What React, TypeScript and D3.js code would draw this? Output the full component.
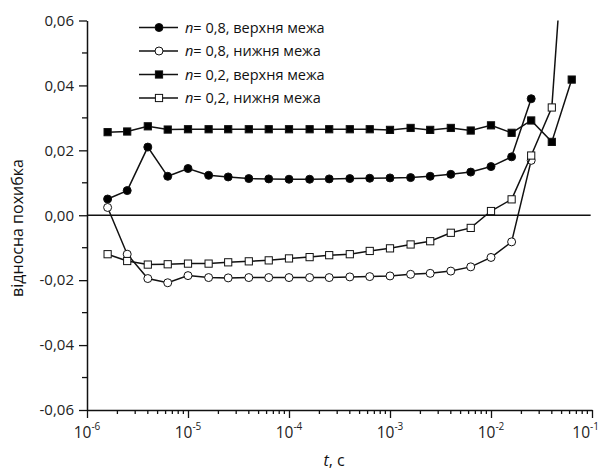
import React, { useEffect, useRef } from 'react';
import * as d3 from 'd3';

// time points, s
const times = [1.6e-6, 2.5e-6, 4e-6, 6.3e-6, 1e-5, 1.6e-5, 2.5e-5, 4e-5, 6.3e-5, 1e-4, 1.6e-4, 2.5e-4,
  4e-4, 6.3e-4, 1e-3, 1.6e-3, 2.5e-3, 4e-3, 6.3e-3, 1e-2, 1.6e-2, 2.5e-2, 4e-2, 6.3e-2];

// n = 0.8, upper / lower bound
const n08Upper = [0.0050, 0.0076, 0.0210, 0.0120, 0.0144, 0.0123, 0.0118, 0.0113, 0.0112, 0.0111, 0.0111, 0.0112,
  0.0113, 0.0114, 0.0115, 0.0116, 0.0120, 0.0126, 0.0133, 0.0150, 0.0180, 0.0359];
const n08Lower = [0.0024, -0.0120, -0.0195, -0.0208, -0.0186, -0.0192, -0.0193, -0.0192, -0.0192, -0.0192, -0.0192, -0.0192,
  -0.0190, -0.0189, -0.0187, -0.0182, -0.0179, -0.0172, -0.0159, -0.0130, -0.0082, 0.0169];
// n = 0.2, upper / lower bound
const n02Upper = [0.0256, 0.0258, 0.0274, 0.0264, 0.0265, 0.0265, 0.0265, 0.0265, 0.0265, 0.0265, 0.0265, 0.0265,
  0.0265, 0.0265, 0.0263, 0.0269, 0.0263, 0.0269, 0.0261, 0.0277, 0.0254, 0.0292, 0.0226, 0.0418];
const n02Lower = [-0.0120, -0.0141, -0.0152, -0.0151, -0.0149, -0.0149, -0.0145, -0.0142, -0.0139, -0.0133, -0.0129, -0.0123,
  -0.0120, -0.0110, -0.0102, -0.0090, -0.0080, -0.0054, -0.0039, 0.0013, 0.0049, 0.0184, 0.0332, 0.1200];

const seriesNames = ['= 0,8, верхня межа', '= 0,8, нижня межа', '= 0,2, верхня межа', '= 0,2, нижня межа'];
const xExponents = [-6, -5, -4, -3, -2, -1];
const yTicks = [-0.06, -0.04, -0.02, 0, 0.02, 0.04, 0.06];
const yMinorTicks = [-0.05, -0.03, -0.01, 0.01, 0.03, 0.05];

const FONT = '"Open Sans", "DejaVu Sans", sans-serif';

export default function App() {
  const ref = useRef<SVGSVGElement>(null);

  useEffect(() => {
    const svg = d3.select(ref.current);
    svg.selectAll('*').remove();

    const x = d3.scaleLog().domain([1e-6, 1e-1]).range([87, 592]);
    const y = d3.scaleLinear().domain([-0.06, 0.06]).range([410, 20.5]);

    const series = [
      { vals: n08Upper, shape: 'circle', fill: '#000' },
      { vals: n08Lower, shape: 'circle', fill: '#fff' },
      { vals: n02Upper, shape: 'square', fill: '#000' },
      { vals: n02Lower, shape: 'square', fill: '#fff' },
    ];

    svg.append('defs').append('clipPath').attr('id', 'plotclip')
      .append('rect')
      .attr('x', x(1e-6)).attr('y', y(0.06))
      .attr('width', x(1e-1) - x(1e-6)).attr('height', y(-0.06) - y(0.06));

    // zero line
    svg.append('line')
      .attr('x1', x(1e-6)).attr('x2', x(0.097))
      .attr('y1', y(0)).attr('y2', y(0))
      .attr('stroke', '#111').attr('stroke-width', 1.5);

    // Y axis
    const yAxis = svg.append('g').attr('transform', `translate(${x(1e-6)},0)`);
    yAxis.call(d3.axisLeft(y).tickValues(yTicks).tickSize(8).tickSizeOuter(0)
      .tickFormat(d => d3.format('.2f')(+d).replace('.', ',').replace('−', '-')));
    yAxis.selectAll('.minor').data(yMinorTicks).join('line').attr('class', 'minor')
      .attr('x1', -5).attr('x2', 0).attr('y1', d => y(d)).attr('y2', d => y(d))
      .attr('stroke', '#111').attr('stroke-width', 1.3);
    yAxis.select('.domain').attr('stroke', '#111').attr('stroke-width', 1.5);
    yAxis.selectAll('.tick line').attr('stroke', '#111').attr('stroke-width', 1.3);
    yAxis.selectAll('.tick text').attr('font-family', FONT).attr('font-size', 15).attr('fill', '#222').attr('x', -13);

    // X axis
    const xAxis = svg.append('g').attr('transform', `translate(0,${y(-0.06)})`);
    const majors = xExponents.map(e => Math.pow(10, e));
    xAxis.call(d3.axisBottom(x).tickValues(majors).tickSize(8).tickSizeOuter(0).tickFormat(() => ''));
    const minors: number[] = [];
    majors.slice(0, -1).forEach(m => { for (let k = 2; k <= 9; k++) minors.push(m * k); });
    xAxis.selectAll('.minor').data(minors).join('line').attr('class', 'minor')
      .attr('x1', d => x(d)).attr('x2', d => x(d)).attr('y1', 0).attr('y2', 4)
      .attr('stroke', '#111').attr('stroke-width', 1.3);
    xAxis.select('.domain').attr('stroke', '#111').attr('stroke-width', 1.5);
    xAxis.selectAll('.tick line').attr('stroke', '#111').attr('stroke-width', 1.3);
    // last label would run off the right edge, so anchor it at its end
    const last = xExponents[xExponents.length - 1];
    const xl = xAxis.selectAll('.xlab').data(xExponents).join('text').attr('class', 'xlab')
      .attr('x', e => (e === last ? 599 : x(Math.pow(10, e))))
      .attr('y', 28)
      .attr('text-anchor', e => (e === last ? 'end' : 'middle'))
      .attr('font-family', FONT).attr('font-size', 15.5).attr('fill', '#222');
    xl.append('tspan').text('10');
    xl.append('tspan').attr('dy', -8).attr('font-size', 10).text(e => `${e}`);

    // axis titles
    svg.append('text')
      .attr('transform', `translate(23,${228}) rotate(-90)`)
      .attr('text-anchor', 'middle').attr('font-family', FONT).attr('font-size', 16).attr('fill', '#111')
      .text('відносна похибка');
    const xt = svg.append('text').attr('x', 334).attr('y', 466)
      .attr('text-anchor', 'middle').attr('font-family', FONT).attr('font-size', 16).attr('fill', '#111');
    xt.append('tspan').attr('font-style', 'italic').text('t');
    xt.append('tspan').text(', с');

    // series
    const plot = svg.append('g').attr('clip-path', 'url(#plotclip)');
    const line = d3.line<number>().x((d, i) => x(times[i])).y(d => y(d));
    const drawMarker = (g: any, shape: string, fill: string) => {
      if (shape === 'circle') {
        g.append('circle').attr('r', 4);
      } else {
        g.append('rect').attr('x', -3.6).attr('y', -3.6).attr('width', 7.2).attr('height', 7.2);
      }
      g.selectAll('circle, rect').attr('fill', fill).attr('stroke', '#111').attr('stroke-width', 1);
    };
    series.forEach(s => {
      plot.append('path').datum(s.vals).attr('d', line)
        .attr('fill', 'none').attr('stroke', '#111').attr('stroke-width', 1.5);
      s.vals.forEach((v, i) => {
        if (v > 0.06) return;
        const g = plot.append('g').attr('transform', `translate(${x(times[i])},${y(v)})`);
        drawMarker(g, s.shape, s.fill);
      });
    });

    // legend
    const legend = svg.append('g');
    series.forEach((s, i) => {
      const row = legend.append('g').attr('transform', `translate(0,${27.5 + i * 23.5})`);
      row.append('line').attr('x1', 139).attr('x2', 178).attr('y1', 0).attr('y2', 0)
        .attr('stroke', '#111').attr('stroke-width', 1.5);
      const g = row.append('g').attr('transform', 'translate(159,0)');
      drawMarker(g, s.shape, s.fill);
      const t = row.append('text').attr('x', 185).attr('y', 5)
        .attr('font-family', FONT).attr('font-size', 14.5).attr('fill', '#111');
      t.append('tspan').attr('font-style', 'italic').text('n');
      t.append('tspan').text(seriesNames[i]);
    });
  }, []);

  return (
    <svg ref={ref} width={601} height={470}
      style={{ position: 'absolute', left: 0, top: 0, background: '#fff' }} />
  );
}
